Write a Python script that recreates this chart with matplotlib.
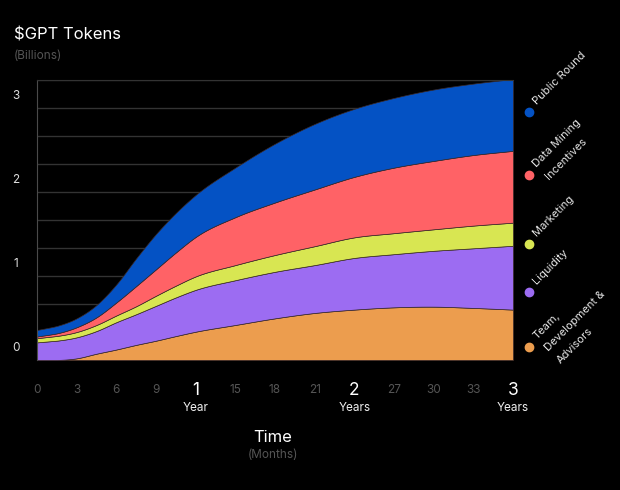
import numpy as np
import matplotlib
matplotlib.use("Agg")
import matplotlib.pyplot as plt
from matplotlib.transforms import blended_transform_factory, ScaledTranslation

plt.rcParams['font.family'] = ['Inter', 'DejaVu Sans']

# ---- data (billions of $GPT tokens, cumulative unlocked) ----
months = [0, 1.5, 3, 4.5, 6, 7.5, 9, 10.5, 12, 15, 18, 21, 24, 27, 30, 33, 36]
team = [0, 0, 0.02, 0.075, 0.125, 0.18, 0.23, 0.285, 0.337, 0.417, 0.496, 0.56, 0.60, 0.627, 0.635, 0.62, 0.60]
liquidity = [0.21, 0.23, 0.25, 0.27, 0.325, 0.365, 0.415, 0.46, 0.498, 0.533, 0.554, 0.57, 0.615, 0.633, 0.665, 0.71, 0.76]
marketing = [0.05, 0.056, 0.063, 0.072, 0.08, 0.095, 0.12, 0.14, 0.16, 0.18, 0.20, 0.225, 0.245, 0.25, 0.256, 0.27, 0.275]
data_mining = [0.02, 0.031, 0.057, 0.091, 0.155, 0.24, 0.315, 0.395, 0.47, 0.57, 0.625, 0.675, 0.72, 0.78, 0.814, 0.84, 0.855]
public_round = [0.077, 0.088, 0.106, 0.147, 0.215, 0.33, 0.42, 0.47, 0.50, 0.59, 0.70, 0.78, 0.81, 0.83, 0.85, 0.85, 0.855]

series_names = ["Team,\nDevelopment &\nAdvisors", "Liquidity", "Marketing",
                "Data Mining\nIncentives", "Public Round"]
colors = ["#EC9D4E", "#9C6CF2", "#D8E652", "#FF6266", "#0452C4"]

x_ticks = [0, 3, 6, 9, 12, 15, 18, 21, 24, 27, 30, 33, 36]
x_labels = ["0", "3", "6", "9", "1", "15", "18", "21", "2", "27", "30", "33", "3"]
x_sublabels = {12: "Year", 24: "Years", 36: "Years"}
y_label_values = [0, 1, 2, 3]
y_labels = ["0", "1", "2", "3"]


def smooth_curve(x, y, n=500):
    """Render-time smooth (cubic Hermite) line through the data points."""
    x = np.asarray(x, float)
    y = np.asarray(y, float)
    h = np.diff(x)
    d = np.diff(y) / h
    m = np.empty_like(y)
    m[0], m[-1] = d[0], d[-1]
    m[1:-1] = (d[:-1] * h[1:] + d[1:] * h[:-1]) / (h[:-1] + h[1:])
    xs = np.linspace(x[0], x[-1], n)
    i = np.clip(np.searchsorted(x, xs, side="right") - 1, 0, len(x) - 2)
    t = (xs - x[i]) / h[i]
    h00 = 2 * t**3 - 3 * t**2 + 1
    h10 = t**3 - 2 * t**2 + t
    h01 = -2 * t**3 + 3 * t**2
    h11 = t**3 - t**2
    ys = h00 * y[i] + h10 * h[i] * m[i] + h01 * y[i + 1] + h11 * h[i] * m[i + 1]
    return xs, np.maximum(ys, 0)


W, H = 620, 490
fig = plt.figure(figsize=(W / 100, H / 100), dpi=100, facecolor="black")
ax = fig.add_axes([37 / W, 130 / H, 476 / W, 280 / H])
ax.set_facecolor("black")

smoothed = [smooth_curve(months, s) for s in
            (team, liquidity, marketing, data_mining, public_round)]
xs = smoothed[0][0]
ax.stackplot(xs, *[s[1] for s in smoothed],
             colors=colors, edgecolor="#3a2a2a", linewidth=0.5, zorder=2)

ax.set_xlim(0, 36)
ax.set_ylim(0, 10 / 3)
ax.set_yticks(np.arange(0, 11) / 3)
ax.set_xticks([])
ax.tick_params(axis="y", length=0, labelleft=False)
ax.grid(axis="y", color="#333333", linewidth=1, zorder=0)
for s in ["right", "bottom"]:
    ax.spines[s].set_visible(False)
ax.spines["left"].set_color("#4a4a4a")
ax.spines["top"].set_color("#333333")

# y labels (placed slightly above their gridline)
ytr = blended_transform_factory(fig.transFigure, ax.transData) + \
    ScaledTranslation(0, 12 / 100, fig.dpi_scale_trans)
for v, lab in zip(y_label_values, y_labels):
    ax.text(16 / W, v, lab, transform=ytr, ha="center", va="center",
            color="#dddddd", fontsize=8.5)

# x labels
xtr = blended_transform_factory(ax.transData, fig.transFigure)
for m, lab in zip(x_ticks, x_labels):
    if m in x_sublabels:
        ax.text(m, (H - 390) / H, lab, transform=xtr, ha="center", va="center",
                color="white", fontsize=12.5, clip_on=False)
        ax.text(m, (H - 408) / H, x_sublabels[m], transform=xtr, ha="center",
                va="center", color="#eeeeee", fontsize=8.5, clip_on=False)
    else:
        ax.text(m, (H - 390) / H, lab, transform=xtr, ha="center", va="center",
                color="#555555", fontsize=8.5, clip_on=False)

# titles
fig.text(14 / W, (H - 35) / H, "\\$GPT Tokens", color="white", fontsize=12,
         ha="left", va="center")
fig.text(14 / W, (H - 56) / H, "(Billions)", color="#555555", fontsize=8.5,
         ha="left", va="center")
fig.text(273 / W, (H - 437) / H, "Time", color="white", fontsize=12,
         ha="center", va="center")
fig.text(273 / W, (H - 455) / H, "(Months)", color="#555555", fontsize=8.5,
         ha="center", va="center")

# legend (rotated labels, one text per line)
dot_y = [347, 292, 244, 175, 112]
step = 11.8
for name, c, dy in zip(series_names, colors, dot_y):
    fig.add_artist(plt.Line2D([529 / W], [(H - dy) / H], marker="o",
                              markersize=6, color=c, linestyle="none",
                              transform=fig.transFigure))
    for k, line in enumerate(name.split("\n")):
        px = 537 + k * step
        py = dy - 7 + k * step
        fig.text(px / W, (H - py) / H, line, color="#e6e6e6",
                 fontsize=8, rotation=45, rotation_mode="anchor",
                 ha="left", va="baseline")

fig.savefig("out.png", dpi=100, facecolor="black")
